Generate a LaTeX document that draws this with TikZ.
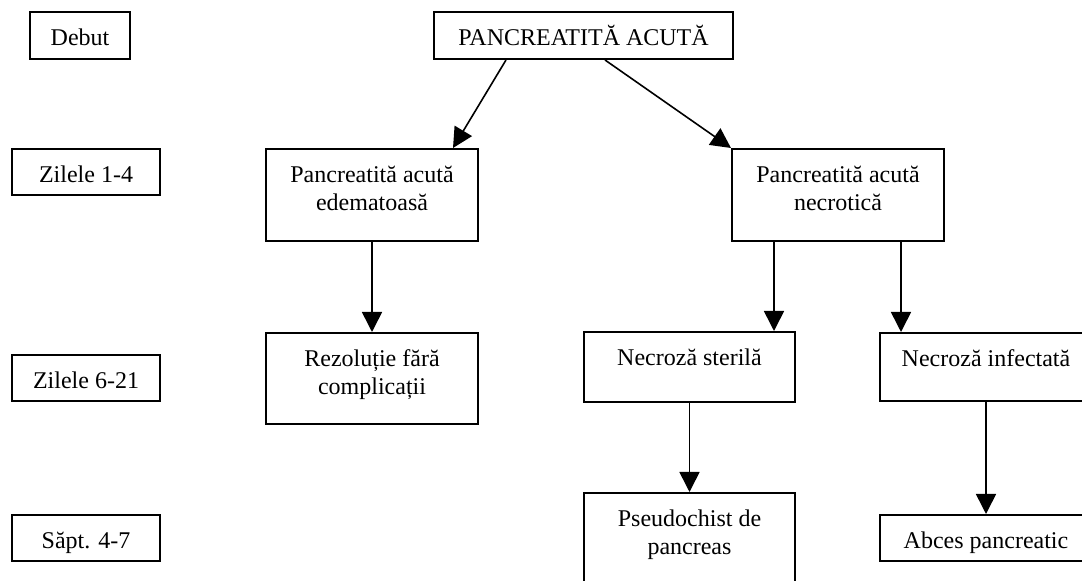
\documentclass[tikz,border=0pt]{standalone}
\usepackage{fontspec}
\setmainfont{Liberation Serif}
\usetikzlibrary{arrows.meta}

\begin{document}
\begin{tikzpicture}[x=0.5pt, y=-0.5pt,
    box/.style={draw, line width=1pt, rectangle, align=center, anchor=north west,
        inner xsep=2pt, inner ysep=0pt, text height=17pt,
        font=\fontsize{12}{13.8}\selectfont},
    box2/.style={box, text height=30.8pt},
    arr/.style={-{Triangle[length=10pt, width=10pt]}, line width=0.8pt}]

    % cadru
    \useasboundingbox (0,0) rectangle (1082,581);
    \clip (0,0) rectangle (1082,581);

    % etape
    \node[box, minimum width=50pt, text depth=6.5pt] (debut) at (29,11) {Debut};
    \node[box, minimum width=74pt, text depth=6pt] (zile1) at (11,148) {Zilele 1-4};
    \node[box, minimum width=74pt, text depth=6pt] (zile6) at (11,354) {Zilele 6-21};
    \node[box, minimum width=74pt, text depth=6pt] (sapt) at (11,514) {Săpt. 4-7};

    % forme
    \node[box, minimum width=149.5pt, text depth=6.5pt] (acuta) at (433,11)
        {PANCREATITĂ ACUTĂ};
    \node[box2, minimum width=106pt, text depth=15.2pt] (edem) at (265,148)
        {Pancreatită acută\\edematoasă};
    \node[box2, minimum width=106pt, text depth=15.2pt] (necr) at (731,148)
        {Pancreatită acută\\necrotică};

    % evolutie
    \node[box2, minimum width=106pt, text depth=14.7pt] (rezol) at (265,332)
        {Rezoluție fără\\complicații};
    \node[box, minimum width=105.5pt, text depth=18pt] (steril) at (583,331)
        {Necroză sterilă};
    \node[box, minimum width=106pt, text depth=17pt] (infect) at (879,332)
        {Necroză infectată};

    % complicatii
    \node[box2, minimum width=105.5pt, text depth=15.2pt] (pseudo) at (583,492)
        {Pseudochist de\\pancreas};
    \node[box, minimum width=106pt, text depth=6pt] (abces) at (879,514)
        {Abces pancreatic};

    % sageti
    \draw[arr] ([xshift=-38.75pt]acuta.south) -- ([xshift=40.5pt]edem.north);
    \draw[arr] ([xshift=10.75pt]acuta.south) -- (necr.north west);
    \draw[arr] (edem) -- (rezol);
    \draw[arr] ([xshift=-32pt]necr.south) -- ([xshift=-32pt]necr.south |- steril.north);
    \draw[arr] ([xshift=31.5pt]necr.south) -- ([xshift=31.5pt]necr.south |- infect.north);
    \draw[arr] (steril) -- (pseudo);
    \draw[arr] (infect) -- (abces);

\end{tikzpicture}
\end{document}
